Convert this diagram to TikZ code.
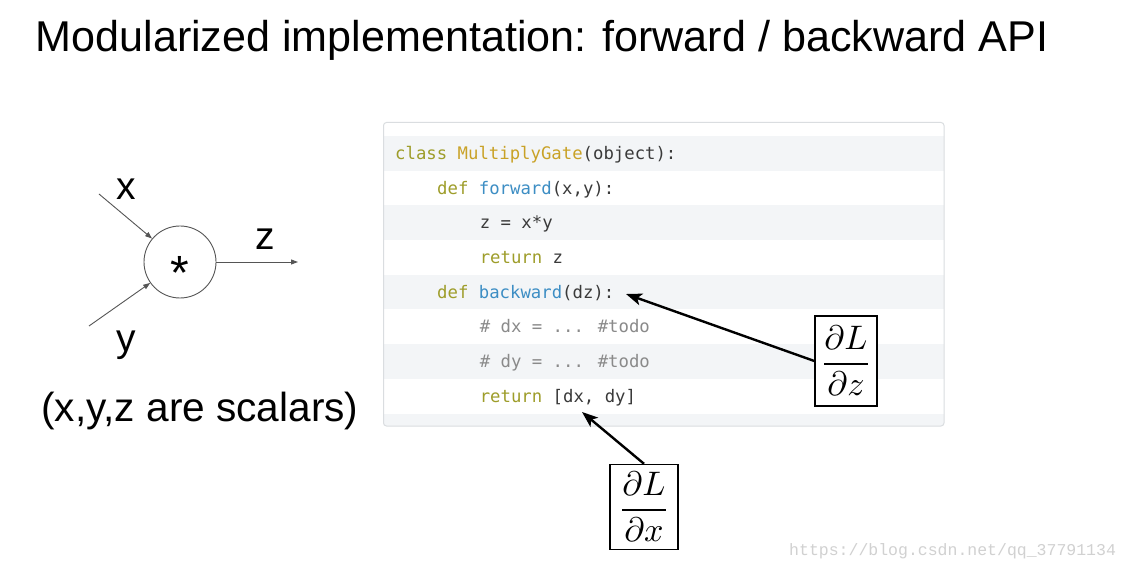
\documentclass[tikz,border=0pt]{standalone}
\usepackage{graphicx}
\usepackage{fontspec}
\setmainfont{Liberation Sans}
\newfontfamily\codefont{DejaVu Sans Mono}
\newfontfamily\wmfont{Liberation Mono}
\usetikzlibrary{arrows.meta}
\definecolor{kw}{HTML}{9E9D2A}
\definecolor{cls}{HTML}{C9A227}
\definecolor{fn}{HTML}{3D8EC4}
\definecolor{plain}{HTML}{3A3A3A}
\definecolor{cmt}{HTML}{8A8A8A}
\definecolor{stripe}{HTML}{F3F5F7}
\definecolor{boxline}{HTML}{DADDE0}
\definecolor{gline}{HTML}{555555}
\begin{document}
\begin{tikzpicture}[x=1pt,y=-1pt,
  codeline/.style={anchor=base west,inner sep=0,text=plain,font=\codefont\fontsize{17.3}{20}\selectfont},
  lbl/.style={anchor=base,inner sep=0,font=\fontsize{39}{44}\selectfont},
  fracbox/.style={draw=black,line width=1.4pt,minimum width=62pt,minimum height=90pt,inner sep=0,fill=white},
  garrow/.style={draw=gline,line width=0.9pt,-{Triangle[length=7pt,width=5pt]}},
  barrow/.style={draw=black,line width=2.4pt,-{Stealth[length=16pt,width=12pt,inset=4pt]}}]
\useasboundingbox (0,0) rectangle (1130,569);
\fill[white] (0,0) rectangle (1130,569);
% title
\node[anchor=base west,inner sep=0,font=\fontsize{43.1}{48}\selectfont] (title) at (35.5,52) {Modularized implementation: forward / backward API};
% graph
\node[circle,draw=gline,line width=0.9pt,minimum size=72pt,inner sep=0] (g) at (180,262) {};
\node[anchor=base,inner sep=0,font=\fontsize{48}{50}\selectfont] (star) at (180,290) {*};
\coordinate (xs) at (99,194);
\coordinate (ys) at (89,326);
\coordinate (ze) at (298,262);
\draw[garrow] (xs) -- (g);
\draw[garrow] (ys) -- (g);
\draw[garrow] (g) -- (ze);
\node[lbl] (xl) at (126,200) {x};
\node[lbl] (zl) at (265,250) {z};
\node[lbl] (yl) at (126,352) {y};
\node[anchor=base west,inner sep=0,font=\fontsize{40.6}{44}\selectfont] (note) at (41,421) {(x,y,z are scalars)};
% code box
\begin{scope}
\clip[rounded corners=3pt] (383.5,122.5) rectangle (944,426);
\foreach \i in {0,2,4,6,8} {
  \fill[stripe] (383,136+34.7*\i) rectangle (945,136+34.7*\i+34.7);
}
\end{scope}
\draw[boxline,line width=1pt,rounded corners=3pt] (383.5,122.5) rectangle (944,426);
\node[codeline] (c1) at (395,159.5) {\textcolor{kw}{class} \textcolor{cls}{MultiplyGate}(object):};
\node[codeline] (c2) at (437,194.2) {\textcolor{kw}{def} \textcolor{fn}{forward}(x,y):};
\node[codeline] (c3) at (479.6,228.9) {z = x*y};
\node[codeline] (c4) at (479.6,263.6) {\textcolor{kw}{return} z};
\node[codeline] (c5) at (437,298.3) {\textcolor{kw}{def} \textcolor{fn}{backward}(dz):};
\node[codeline,text=cmt] (c6) at (479.6,333.0) {\# dx = ... \#todo};
\node[codeline,text=cmt] (c7) at (479.6,367.7) {\# dy = ... \#todo};
\node[codeline] (c8) at (479.6,402.4) {\textcolor{kw}{return} [dx, dy]};
% fraction boxes
\node[fracbox] (dz) at (846,361) {\scalebox{3.4}{$\displaystyle\frac{\partial L}{\partial z}$}};
\node[fracbox,minimum width=68pt,minimum height=85pt] (dx) at (644,507) {\scalebox{3.4}{$\displaystyle\frac{\partial L}{\partial x}$}};
\coordinate (t1) at (626,294);
\coordinate (t2) at (582,412);
\draw[barrow] (dz.west) -- (t1);
\draw[barrow] (dx.north) -- (t2);
% watermark
\node[anchor=base west,inner sep=0,text=black!18,font=\wmfont\fontsize{16.5}{18}\selectfont] (wm) at (789,555) {https://blog.csdn.net/qq\_37791134};
\end{tikzpicture}
\end{document}
